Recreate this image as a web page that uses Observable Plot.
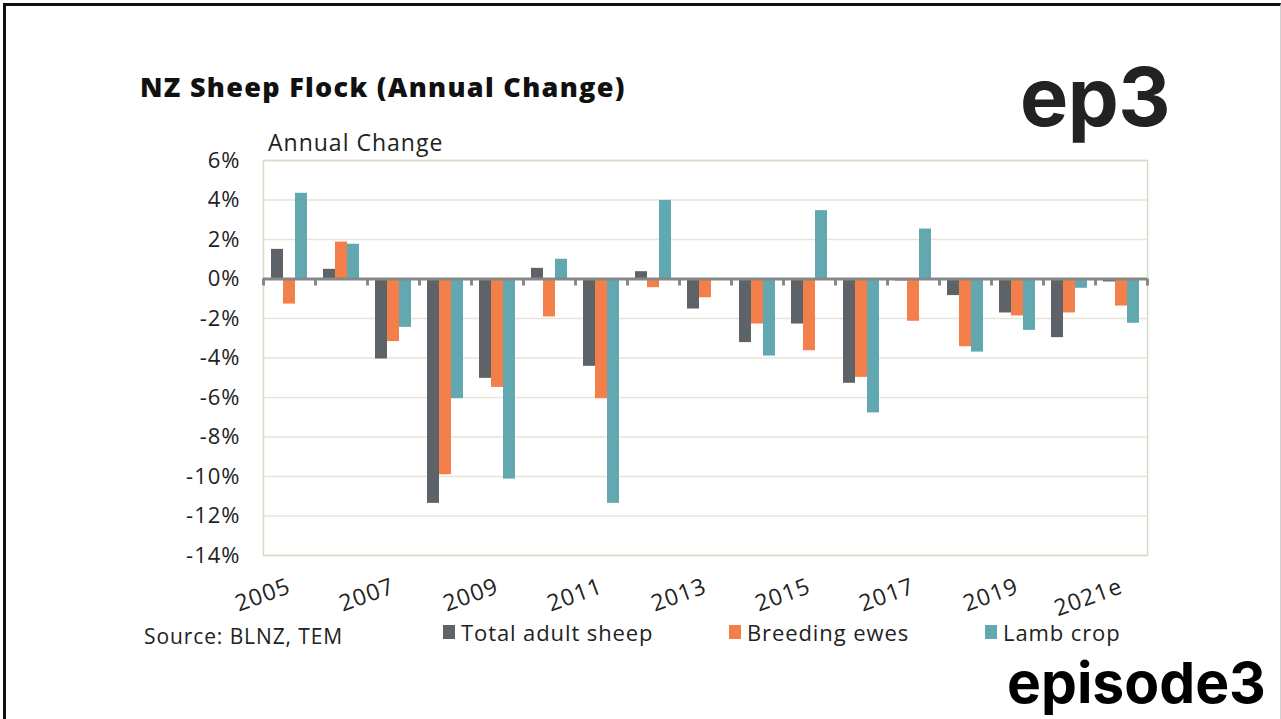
<!DOCTYPE html>
<html>
<head>
<meta charset="utf-8">
<script src="https://cdn.jsdelivr.net/npm/d3@7"></script>
<script src="https://cdn.jsdelivr.net/npm/@observablehq/plot@0.6"></script>
<style>
  html, body { margin: 0; padding: 0; background: #fff; }
  #page { position: relative; width: 1281px; height: 719px; overflow: hidden; font-family: "Open Sans", sans-serif; color: #222; }
  #frame { position: absolute; left: 3px; top: 3px; width: 1274px; height: 730px; border-top: 3px solid #111; border-left: 3px solid #111; border-right: 1px solid #d0d0d0; }
  .txt { position: absolute; white-space: nowrap; line-height: 1; }
  #title { left: 140px; top: 73px; font-size: 27px; font-weight: 800; color: #111; letter-spacing: 1.3px; }
  #ylabel { left: 268px; top: 131px; font-size: 23px; color: #222; letter-spacing: 1px; }
  #chart { position: absolute; left: 150px; top: 140px; }
  #source { left: 144px; top: 626px; font-size: 21px; color: #222; letter-spacing: 0.9px; }
  .leg { position: absolute; top: 621px; font-size: 22px; color: #222; line-height: 1; white-space: nowrap; display: flex; align-items: center; letter-spacing: 0.9px; }
  .leg i { display: inline-block; width: 12px; height: 14px; margin-right: 6px; }
  #ep3 { left: 1020px; top: 57px; font-family: Inter, sans-serif; font-weight: 700; font-size: 81px; color: #222; letter-spacing: -0.5px; }
  #episode3 { left: 1007px; top: 654px; font-family: Inter, sans-serif; font-weight: 700; font-size: 57px; color: #000; letter-spacing: 0px; }
</style>
</head>
<body>
<div id="page">
  <div id="frame"></div>
  <div class="txt" id="title">NZ Sheep Flock (Annual Change)</div>
  <div class="txt" id="ep3">ep3</div>
  <div class="txt" id="ylabel">Annual Change</div>
  <div id="chart"></div>
  <div class="txt" id="source">Source: BLNZ, TEM</div>
  <div id="legend"></div>
  <div class="txt" id="episode3">episode3</div>
</div>
<script>
// ---- Data ----
const years = ["2005","2006","2007","2008","2009","2010","2011","2012","2013","2014","2015","2016","2017","2018","2019","2020","2021e"];
const labelYears = ["2005","2007","2009","2011","2013","2015","2017","2019","2021e"];
const yTicks = [-14,-12,-10,-8,-6,-4,-2,0,2,4,6];
const seriesNames = ["Total adult sheep","Breeding ewes","Lamb crop"];
const seriesColors = ["#5d6366","#f37f4b","#62a8b0"];
const totalAdult   = [1.50, 0.49, -4.05, -11.36, -5.03, 0.54, -4.42, 0.37, -1.52, -3.22, -2.28, -5.28, -0.10, -0.84, -1.72, -2.97, -0.15];
const breedingEwes = [-1.27, 1.87, -3.17, -9.91, -5.49, -1.92, -6.06, -0.44, -0.95, -2.28, -3.63, -4.98, -2.14, -3.43, -1.87, -1.72, -1.37];
const lambCrop     = [4.34, 1.76, -2.45, -6.06, -10.13, 1.00, -11.36, 3.98, 0.00, -3.90, 3.46, -6.78, 2.53, -3.70, -2.60, -0.47, -2.24];

const seriesValues = [totalAdult, breedingEwes, lambCrop];
const rows = [];
seriesNames.forEach((s, si) => years.forEach((yr, i) => rows.push({year: yr, series: s, value: seriesValues[si][i]})));

// ---- Layout ----
const W = 1010, H = 495, ML = 113, MR = 13, MT = 20, MB = 80;
const band = (W - ML - MR) / years.length;
const pad = band * 8 / 52;
const barW = band * 12 / 52;

const barMarks = seriesNames.map((s, si) =>
  Plot.barY(rows.filter(d => d.series === s), {
    x: "year", y1: 0, y2: "value", fill: seriesColors[si],
    insetLeft: pad + si * barW,
    insetRight: band - pad - (si + 1) * barW
  })
);

const chart = Plot.plot({
  width: W, height: H,
  marginLeft: ML, marginRight: MR, marginTop: MT, marginBottom: MB,
  style: {fontFamily: "'Open Sans', sans-serif", fontSize: "22px", color: "#222", background: "transparent", overflow: "visible", letterSpacing: "1px"},
  x: {type: "band", domain: years, padding: 0, label: null},
  y: {domain: [-14, 6], label: null},
  marks: [
    Plot.gridY({ticks: yTicks, stroke: "#e5e5da", strokeOpacity: 1, strokeWidth: 1.5}),
    Plot.frame({stroke: "#d9d9c8", strokeWidth: 1.5}),
    ...barMarks,
    Plot.ruleY([0], {stroke: "#878787", strokeWidth: 3}),
    Plot.ruleX(years, {x: d => d, y1: 0, y2: 0, dx: -band / 2, insetBottom: -7, stroke: "#878787", strokeWidth: 3}),
    Plot.ruleX(years.slice(-1), {x: d => d, y1: 0, y2: 0, dx: band / 2, insetBottom: -7, stroke: "#878787", strokeWidth: 3}),
    Plot.axisY({ticks: yTicks, tickFormat: d => `${d}%`, tickSize: 0, tickPadding: 23, fontSize: 22, label: null}),
    Plot.axisX({ticks: labelYears, tickSize: 0, tickPadding: 30, tickRotate: -20, textAnchor: "end", lineAnchor: "middle", fontSize: 23, label: null})
  ]
});
document.getElementById("chart").appendChild(chart);

// ---- Legend ----
const legendX = [443, 729, 985];
const legend = document.getElementById("legend");
seriesNames.forEach((s, i) => {
  const el = document.createElement("div");
  el.className = "leg";
  el.style.left = legendX[i] + "px";
  el.innerHTML = `<i style="background:${seriesColors[i]}"></i><span>${s}</span>`;
  legend.appendChild(el);
});
</script>
</body>
</html>
